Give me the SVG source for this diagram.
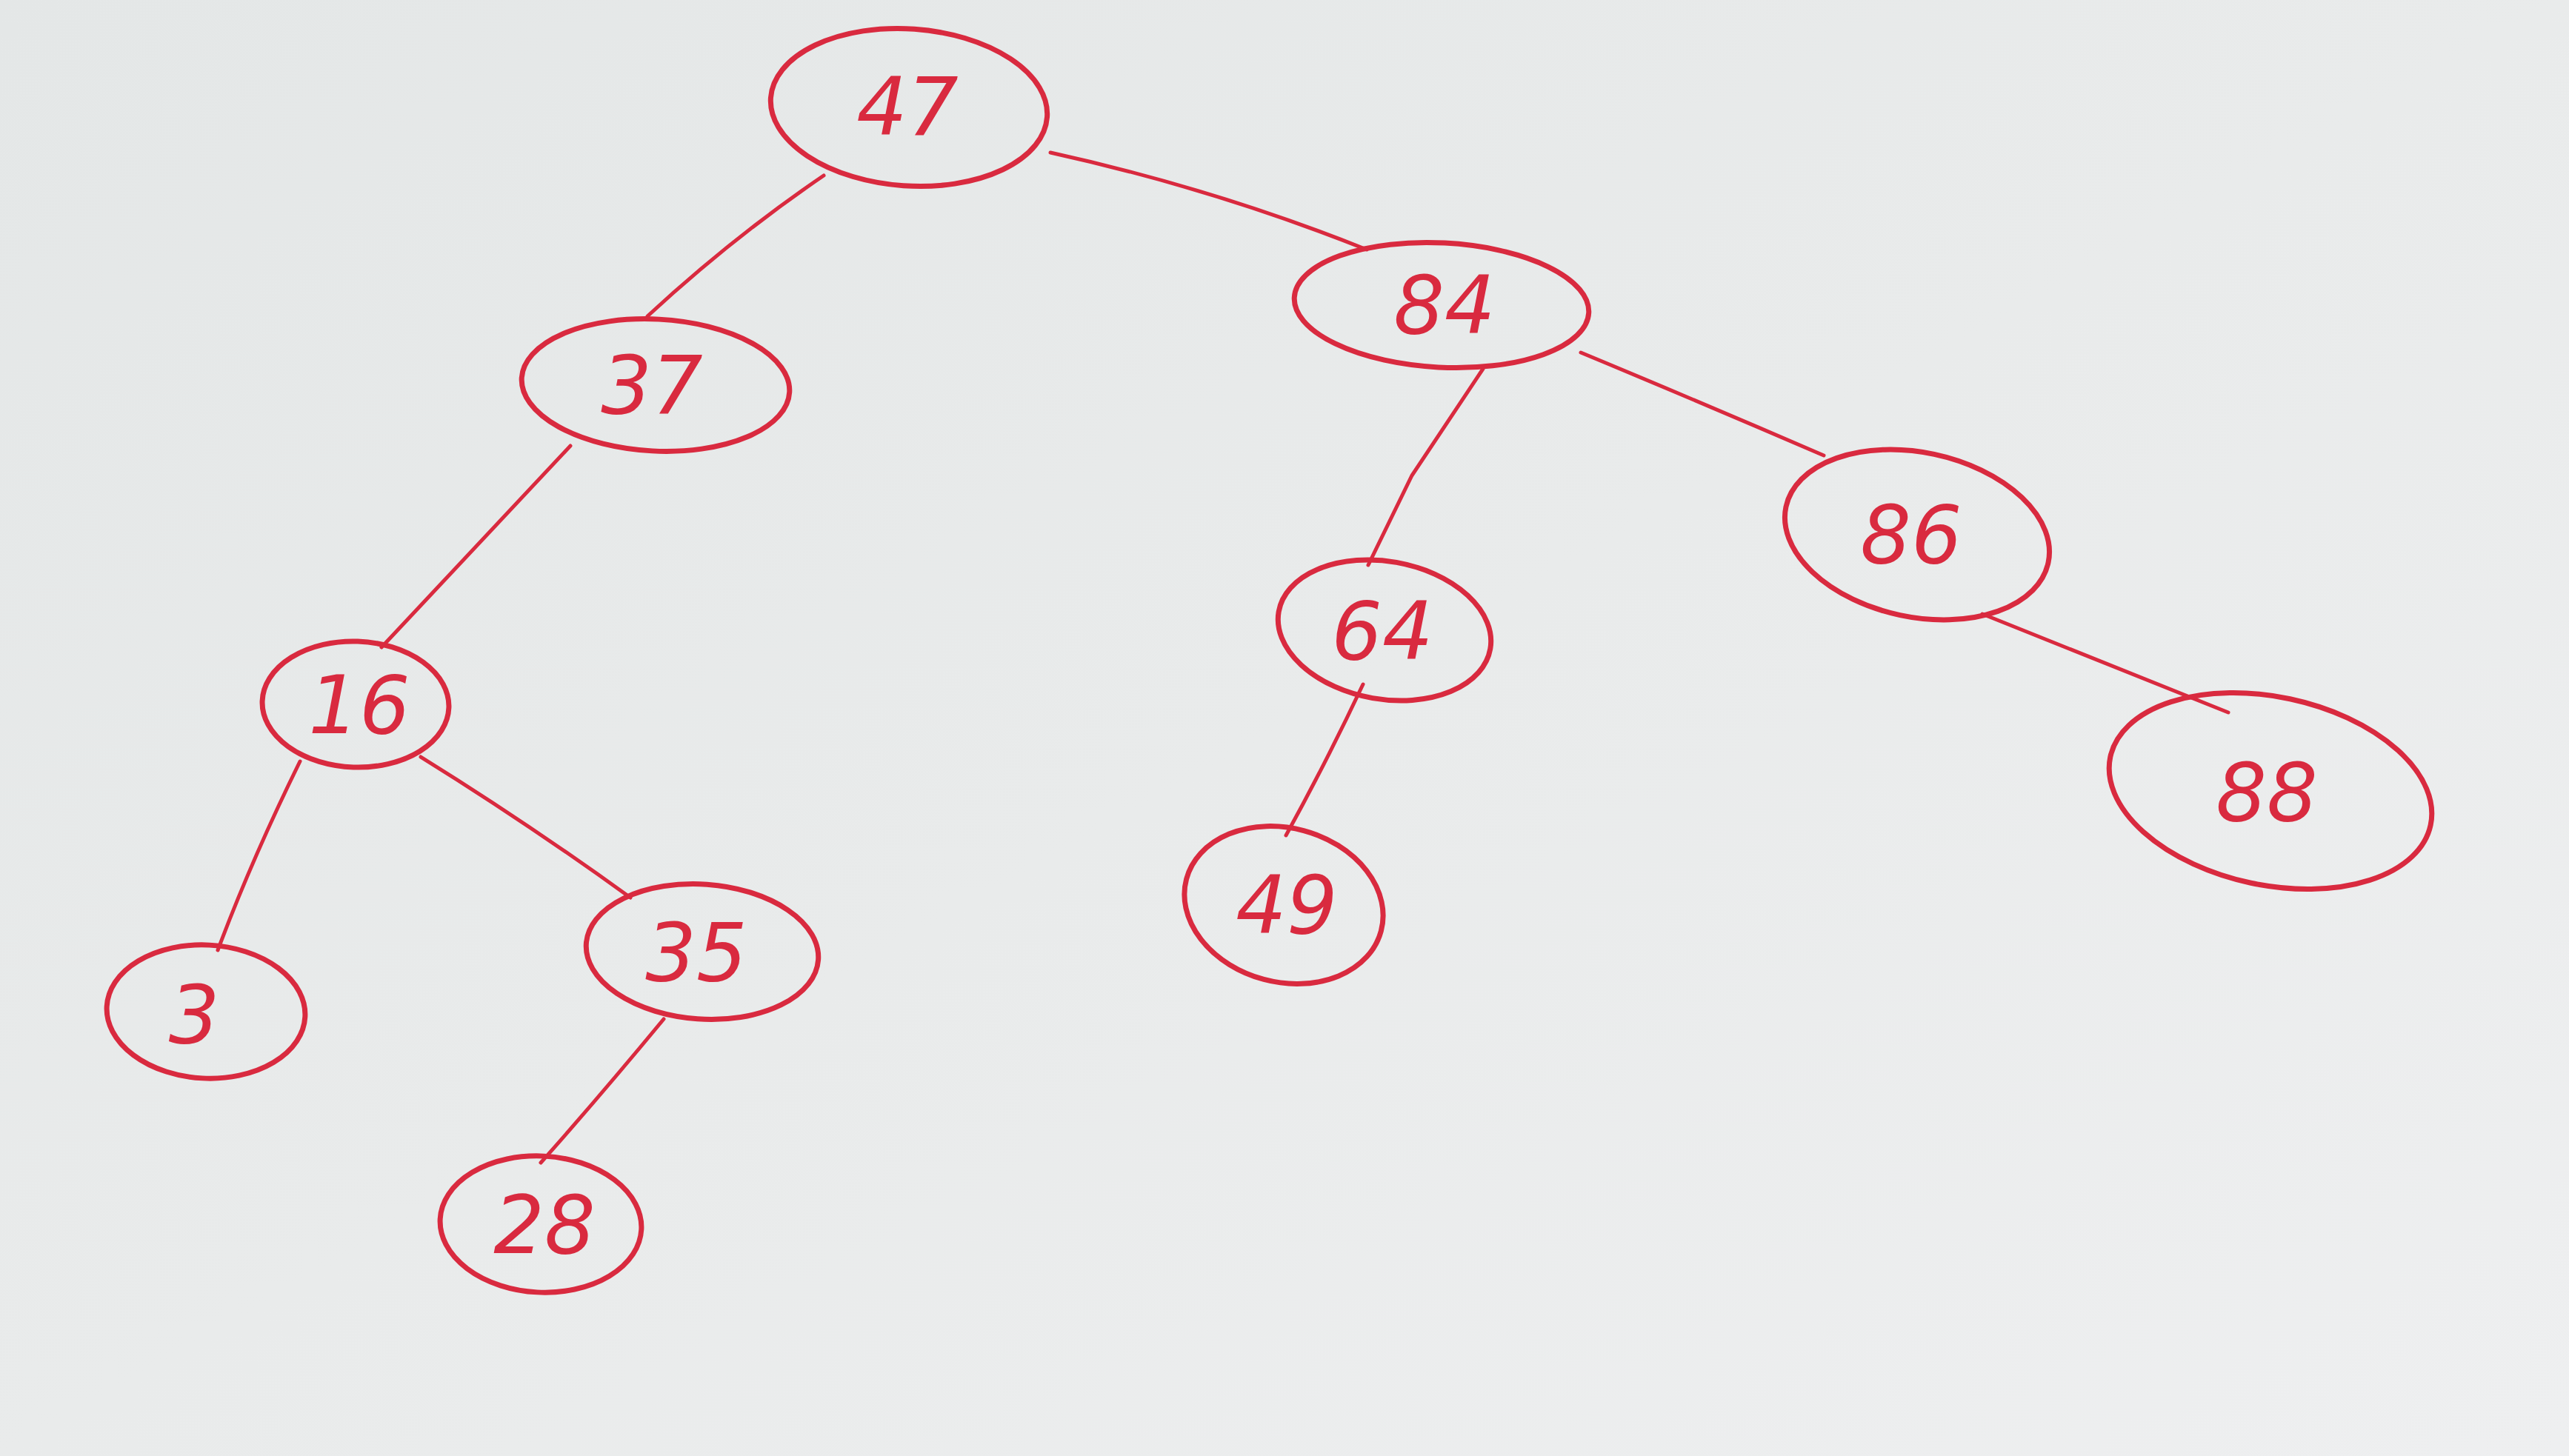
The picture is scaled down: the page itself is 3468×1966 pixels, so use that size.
<svg xmlns="http://www.w3.org/2000/svg" width="3468" height="1966" viewBox="0 0 3468 1966">
<defs>
<linearGradient id="paper" x1="0" y1="0" x2="1" y2="1">
<stop offset="0" stop-color="#e4e7e7"/>
<stop offset="0.5" stop-color="#e9ebeb"/>
<stop offset="1" stop-color="#eeeff0"/>
</linearGradient>
<style>
.n{fill:none;stroke:#d92a3f;stroke-width:7;stroke-linecap:round}
.e{fill:none;stroke:#d92a3f;stroke-width:5;stroke-linecap:round}
.t{font-family:"DejaVu Sans",sans-serif;font-size:108px;fill:#d92a3f;text-anchor:middle;font-style:italic}
</style>
</defs>
<rect width="3468" height="1966" fill="url(#paper)"/>
<g id="connectors">
<path class="e" d="M1112,237 Q990,320 874,427"/>
<path class="e" d="M1418,206 Q1640,255 1845,337"/>
<path class="e" d="M770,602 Q640,740 515,874"/>
<path class="e" d="M405,1028 Q340,1160 294,1283"/>
<path class="e" d="M568,1022 Q710,1110 851,1212"/>
<path class="e" d="M896,1376 Q810,1480 730,1570"/>
<path class="e" d="M2002,498 L1906,642 L1847,763"/>
<path class="e" d="M2134,476 Q2300,545 2462,615"/>
<path class="e" d="M1840,924 Q1790,1030 1736,1128"/>
<path class="e" d="M2676,829 Q2840,895 3008,962"/>
</g>
<g id="node-47"><ellipse class="n" cx="1227" cy="145" rx="187" ry="106" transform="rotate(4 1227 145)"/><text class="t" x="1225" y="182">47</text></g>
<g id="node-84"><ellipse class="n" cx="1946" cy="412" rx="199" ry="84" transform="rotate(3 1946 412)"/><text class="t" x="1950" y="450">84</text></g>
<g id="node-37"><ellipse class="n" cx="885" cy="520" rx="181" ry="89" transform="rotate(3 885 520)"/><text class="t" x="880" y="558">37</text></g>
<g id="node-86"><ellipse class="n" cx="2588" cy="722" rx="181" ry="111" transform="rotate(12 2588 722)"/><text class="t" x="2580" y="760">86</text></g>
<g id="node-88"><ellipse class="n" cx="3065" cy="1068" rx="221" ry="127" transform="rotate(12 3065 1068)"/><text class="t" x="3060" y="1108">88</text></g>
<g id="node-16"><ellipse class="n" cx="480" cy="951" rx="126" ry="85" transform="rotate(2 480 951)"/><text class="t" x="485" y="990">16</text></g>
<g id="node-64"><ellipse class="n" cx="1869" cy="851" rx="145" ry="93" transform="rotate(10 1869 851)"/><text class="t" x="1866" y="890">64</text></g>
<g id="node-3"><ellipse class="n" cx="278" cy="1366" rx="134" ry="90" transform="rotate(3 278 1366)"/><text class="t" x="262" y="1408">3</text></g>
<g id="node-35"><ellipse class="n" cx="948" cy="1285" rx="157" ry="91" transform="rotate(4 948 1285)"/><text class="t" x="940" y="1324">35</text></g>
<g id="node-49"><ellipse class="n" cx="1733" cy="1222" rx="136" ry="104" transform="rotate(15 1733 1222)"/><text class="t" x="1737" y="1260">49</text></g>
<g id="node-28"><ellipse class="n" cx="730" cy="1653" rx="136" ry="92" transform="rotate(3 730 1653)"/><text class="t" x="735" y="1692">28</text></g>
</svg>
